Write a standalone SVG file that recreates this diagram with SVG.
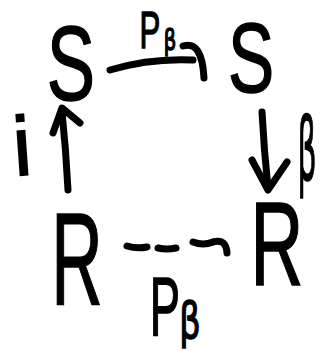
<svg xmlns="http://www.w3.org/2000/svg" width="328" height="356" viewBox="0 0 328 356">
<style>
.t{font-family:"Liberation Sans","DejaVu Sans",sans-serif;fill:#000;stroke:#000;stroke-width:1.5;text-anchor:middle}
.g{font-family:"DejaVu Sans","Liberation Sans",sans-serif;fill:#000;stroke:#000;stroke-width:1.5;text-anchor:middle}
.c{fill:none;stroke:#000;stroke-width:7;stroke-linecap:round;stroke-linejoin:round}
</style>
<rect width="328" height="356" fill="#fff"/>
<g id="S1"><text class="t" font-size="105" transform="translate(71,100) scale(0.69,1)">S</text></g>
<g id="S2"><text class="t" font-size="99" transform="translate(251,92) scale(0.7,1)">S</text></g>
<g id="R1"><text class="t" font-size="132" transform="translate(77,305) scale(0.54,1)">R</text></g>
<g id="R2"><text class="t" font-size="118" transform="translate(277,285) scale(0.62,1)">R</text></g>
<g id="connectors">
<path class="c" d="M110,70 Q150,58 193,60"/>
<path class="c" d="M183,46 Q202,40 204,78"/>
<path class="c" d="M68,190 Q66,150 62,112"/>
<path class="c" d="M53,133 L62,108 L80,123"/>
<path class="c" d="M262,112 Q264,150 268,188"/>
<path class="c" d="M252,160 L268,190 L287,162"/>
<path class="c" d="M127,246 Q137,249 147,247"/>
<path class="c" d="M158,248 Q167,250 176,248"/>
<path class="c" d="M193,242 Q203,246 213,242"/>
<path class="c" d="M213,242 Q226,238 227,253"/>
</g>
<g id="labels">
<text class="t" font-size="52" transform="translate(150,48) scale(0.6,1)">P</text>
<text class="g" font-size="28" transform="translate(170,50) scale(0.7,1)">β</text>
<text class="t" font-size="84" transform="translate(24,175) rotate(-4)">i</text>
<text class="g" font-size="88" transform="translate(307,180) scale(0.34,1)">β</text>
<text class="t" font-size="84" transform="translate(165,335) scale(0.54,1)">P</text>
<text class="g" font-size="50" transform="translate(190,338) scale(0.67,1)">β</text>
</g>
</svg>
